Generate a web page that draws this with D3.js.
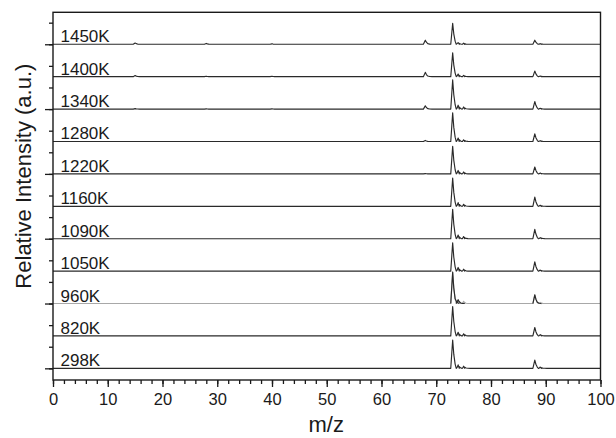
<!DOCTYPE html>
<html>
<head>
<meta charset="utf-8">
<script src="https://cdn.jsdelivr.net/npm/d3@7"></script>
<style>
  html, body { margin: 0; padding: 0; background: #fff; }
  svg { display: block; }
  text { font-family: "Liberation Sans", Arial, sans-serif; fill: #1a1a1a; }
</style>
</head>
<body>
<svg id="chart" width="616" height="438"></svg>
<script>
// ---------------- data ----------------
const temperatures = ["1450K","1400K","1340K","1280K","1220K","1160K","1090K","1050K","960K","820K","298K"];
// m/z positions of the visible peaks
const peakMz = [15, 28, 40, 68, 73, 74, 75, 88, 89];
// peak heights (arbitrary units, same order as peakMz), one array per spectrum
const h1450 = [0.06, 0.04, 0.02, 0.19, 0.97, 0.08, 0.05, 0.19, 0.03];
const h1400 = [0.05, 0.02, 0.02, 0.20, 1.10, 0.12, 0.06, 0.26, 0.03];
const h1340 = [0.02, 0.01, 0.01, 0.15, 1.35, 0.18, 0.10, 0.35, 0.04];
const h1280 = [0.00, 0.00, 0.00, 0.05, 1.33, 0.16, 0.08, 0.35, 0.04];
const h1220 = [0.00, 0.00, 0.00, 0.01, 1.28, 0.16, 0.09, 0.32, 0.04];
const h1160 = [0.00, 0.00, 0.00, 0.00, 1.31, 0.17, 0.09, 0.43, 0.05];
const h1090 = [0.00, 0.00, 0.00, 0.00, 1.36, 0.17, 0.10, 0.43, 0.05];
const h1050 = [0.00, 0.00, 0.00, 0.00, 1.31, 0.17, 0.09, 0.43, 0.05];
const h960  = [0.00, 0.00, 0.00, 0.00, 1.45, 0.17, 0.10, 0.40, 0.05];
const h820  = [0.00, 0.00, 0.00, 0.00, 1.36, 0.17, 0.10, 0.39, 0.06];
const h298  = [0.00, 0.00, 0.00, 0.00, 1.31, 0.16, 0.10, 0.38, 0.06];
const heights = [h1450, h1400, h1340, h1280, h1220, h1160, h1090, h1050, h960, h820, h298];
const offsetStep = 1.5;           // vertical stacking offset between spectra
const xTickValues = [0,10,20,30,40,50,60,70,80,90,100];
const xLabel = "m/z";
const yLabel = "Relative Intensity (a.u.)";

// ---------------- layout ----------------
const svg = d3.select("#chart");
const mLeft = 53, mRight = 600.5, mTop = 12.3, mBottom = 380;
const x = d3.scaleLinear().domain([0, 100]).range([mLeft, mRight]);
const y = d3.scaleLinear().domain([-0.54, 16.48]).range([mBottom, mTop]);

// peak profile (sharp rise, short tail) used to draw each stick peak
const profile = [[-0.35, 0], [0, 1], [0.2, 0.5], [0.45, 0.15], [0.8, 0.03], [1.2, 0]];

function spectrumPoints(hs) {
  const pts = [[0, 0]];
  peakMz.forEach((m, i) => {
    if (hs[i] <= 0) return;
    profile.forEach(([dx, f]) => pts.push([m + dx, hs[i] * f]));
  });
  pts.push([100, 0]);
  pts.sort((a, b) => a[0] - b[0]);
  return pts;
}

const n = temperatures.length;
const line = d3.line().x(d => x(d[0])).y(d => y(d[1]));

// spectra
temperatures.forEach((t, k) => {
  const base = (n - 1 - k) * offsetStep;
  const pts = spectrumPoints(heights[k]).map(p => [p[0], p[1] + base]);
  const light = t === "960K";
  svg.append("path")
    .attr("d", line(pts))
    .attr("fill", "none")
    .attr("stroke", light ? "#a8a8a8" : "#2a2a2a")
    .attr("stroke-width", 1.15)
    .attr("stroke-linejoin", "round");
  if (light) {
    // the peaks of this trace are drawn dark, only its baseline is light
    peakMz.forEach((m, i) => {
      if (heights[k][i] <= 0.1) return;
      const seg = profile.map(([dx, f]) => [m + dx, heights[k][i] * f + base]);
      svg.append("path")
        .attr("d", line(seg))
        .attr("fill", "none")
        .attr("stroke", "#2a2a2a")
        .attr("stroke-width", 1.15)
        .attr("stroke-linejoin", "round");
    });
  }
  svg.append("text")
    .attr("x", 60.5)
    .attr("y", y(base) - 2)
    .attr("font-size", 17)
    .text(t);
});

// frame
svg.append("rect")
  .attr("x", mLeft).attr("y", mTop)
  .attr("width", mRight - mLeft).attr("height", mBottom - mTop)
  .attr("fill", "none").attr("stroke", "#1a1a1a").attr("stroke-width", 1.4);

// x axis
const xAxisG = svg.append("g").attr("transform", `translate(0,${mBottom})`);
xAxisG.call(d3.axisBottom(x).tickValues(d3.range(0, 101, 2)).tickSize(4).tickFormat(""))
  .call(g => g.select(".domain").remove());
xAxisG.append("g").call(d3.axisBottom(x).tickValues(xTickValues).tickSize(7).tickPadding(6).tickFormat(d3.format("d")))
  .call(g => g.select(".domain").remove())
  .call(g => g.selectAll("text").attr("font-size", 16.5).attr("fill", "#1a1a1a").attr("font-family", "Liberation Sans, Arial, sans-serif"));
xAxisG.selectAll("line").attr("stroke", "#1a1a1a").attr("stroke-width", 1.3);

// y axis
const yAxisG = svg.append("g").attr("transform", `translate(${mLeft},0)`);
yAxisG.call(d3.axisLeft(y).tickValues(d3.range(0, 17, 1)).tickSize(4).tickFormat(""))
  .call(g => g.select(".domain").remove());
yAxisG.append("g").call(d3.axisLeft(y).tickValues(d3.range(0, 17, 3)).tickSize(8).tickFormat(""))
  .call(g => g.select(".domain").remove());
yAxisG.selectAll("line").attr("stroke", "#1a1a1a").attr("stroke-width", 1.3);

// axis titles
svg.append("text")
  .attr("x", (mLeft + mRight) / 2 - 0.5)
  .attr("y", 432)
  .attr("text-anchor", "middle")
  .attr("font-size", 22)
  .text(xLabel);
svg.append("text")
  .attr("transform", `translate(31,${(mTop + mBottom) / 2 - 20}) rotate(-90)`)
  .attr("text-anchor", "middle")
  .attr("font-size", 22)
  .text(yLabel);
</script>
</body>
</html>
